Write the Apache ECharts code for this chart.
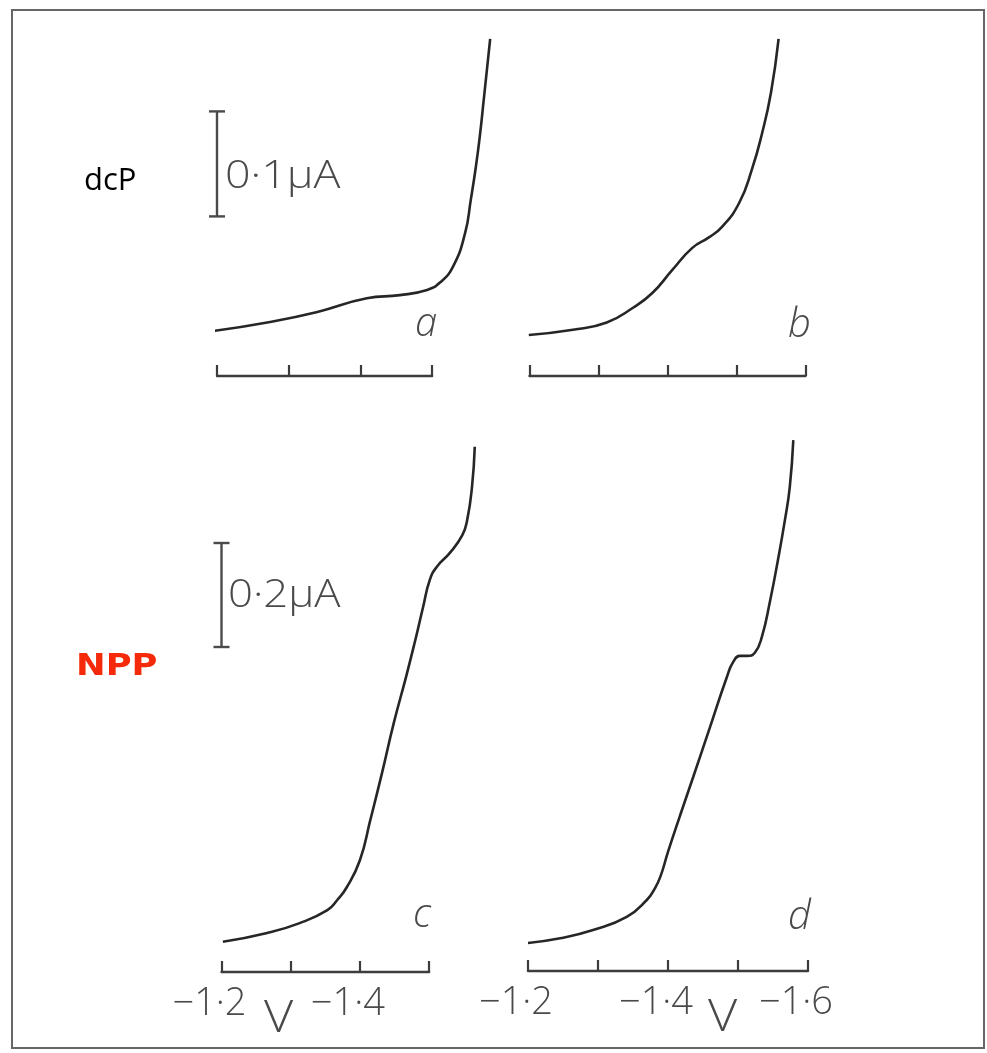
<!DOCTYPE html>
<html>
<head>
<meta charset="utf-8">
<script src="https://cdn.jsdelivr.net/npm/echarts@6/dist/echarts.min.js"></script>
<style>
  html, body { margin: 0; padding: 0; background: #fff; }
  #chart { width: 987px; height: 1053px; }
</style>
</head>
<body>
<div id="chart"></div>
<script>
// Polarograms: potential in V, current in µA measured from the trace baseline.
// a, b: dc polarography (dcP); c, d: normal pulse polarography (NPP).
const voltsA   = [-1.196, -1.270, -1.340, -1.409, -1.455, -1.493, -1.511, -1.529, -1.546, -1.554, -1.561, -1.567, -1.572, -1.581];
const currentA = [0.043, 0.051, 0.061, 0.074, 0.077, 0.082, 0.089, 0.104, 0.136, 0.168, 0.199, 0.231, 0.263, 0.321];

const voltsB   = [-1.199, -1.263, -1.312, -1.350, -1.378, -1.407, -1.436, -1.460, -1.479, -1.504, -1.522, -1.537, -1.550, -1.561];
const currentB = [0.039, 0.044, 0.051, 0.065, 0.079, 0.101, 0.122, 0.132, 0.142, 0.165, 0.196, 0.231, 0.270, 0.321];

const voltsC   = [-1.202, -1.266, -1.313, -1.353, -1.367, -1.381, -1.400, -1.415, -1.432, -1.449, -1.467, -1.480, -1.491, -1.501, -1.511, -1.530, -1.548, -1.555, -1.562, -1.566];
const currentC = [0.058, 0.075, 0.094, 0.119, 0.138, 0.163, 0.215, 0.292, 0.383, 0.479, 0.569, 0.638, 0.700, 0.754, 0.779, 0.806, 0.840, 0.869, 0.933, 1.010];

const voltsD   = [-1.200, -1.246, -1.293, -1.341, -1.370, -1.380, -1.389, -1.400, -1.417, -1.436, -1.460, -1.484, -1.493, -1.503, -1.513, -1.524, -1.534, -1.546, -1.557, -1.567, -1.574, -1.579];
const currentD = [0.054, 0.063, 0.079, 0.104, 0.137, 0.156, 0.181, 0.229, 0.298, 0.373, 0.469, 0.565, 0.594, 0.606, 0.606, 0.612, 0.642, 0.713, 0.790, 0.867, 0.931, 1.021];

// Current scale bars (start potential, base current, span in µA)
const scaleBarDcp = { volts: -1.2, base: 0.152, span: 0.1 };
const scaleBarNpp = { volts: -1.2, base: 0.625, span: 0.2 };
const scaleBarTexts = ['0·1µA', '0·2µA'];

// Potential rulers: end of each ruler and the ticks that carry a label
const rulerEnds = { a: -1.5, b: -1.6, c: -1.5, d: -1.6 };
const tickLabelsC = [-1.2, -1.4];
const tickLabelsD = [-1.2, -1.4, -1.6];
const panelLetters = ['a', 'b', 'c', 'd'];
const methodNames = ['dcP', 'NPP'];
const unitName = 'V';

// Page placement of each panel (pixel of −1.2 V, pixels per 0.1 V, baseline, µA scale)
const LAYOUT = {
  a: { x0: 217,   step: 71.7, axisY: 376, top: 20,  perUA: 1050 },
  b: { x0: 529.5, step: 69.0, axisY: 376, top: 20,  perUA: 1050 },
  c: { x0: 221.5, step: 69.2, axisY: 972, top: 420, perUA: 520 },
  d: { x0: 528,   step: 70.0, axisY: 971, top: 420, perUA: 520 }
};

const INK = '#262626';
const LETTER = '#4a4a4a';
const FONT = '"Open Sans", "DejaVu Sans", sans-serif';

const keys = ['a', 'b', 'c', 'd'];
const grids = [], xAxes = [], yAxes = [], series = [];
const curveGrid = {};

function fmtVolt(v) {
  return '\u2212' + Math.abs(v).toFixed(1).replace('.', '\u00b7');
}

keys.forEach((k) => {
  const L = LAYOUT[k];
  // curve grid, −1.2 … −1.6 V
  curveGrid[k] = grids.length;
  grids.push({ left: L.x0, top: L.top, width: 4 * L.step, height: L.axisY - L.top });
  xAxes.push({ gridIndex: curveGrid[k], type: 'value', inverse: true, min: -1.6, max: -1.2, show: false });
  yAxes.push({ gridIndex: curveGrid[k], type: 'value', min: 0, max: (L.axisY - L.top) / L.perUA, show: false });

  // ruler grid
  const n = Math.round((-1.2 - rulerEnds[k]) / 0.1);
  const gi = grids.length;
  grids.push({ left: L.x0, top: L.axisY - 20, width: n * L.step, height: 20 });
  const labelled = k === 'c' ? tickLabelsC : (k === 'd' ? tickLabelsD : null);
  xAxes.push({
    gridIndex: gi, type: 'value', inverse: true,
    min: rulerEnds[k], max: -1.2, interval: 0.1, position: 'bottom',
    axisLine: { show: true, onZero: false, lineStyle: { color: '#3c3c3c', width: 2.4 } },
    axisTick: { show: true, inside: true, length: 11, lineStyle: { color: '#3c3c3c', width: 2.2 } },
    splitLine: { show: false },
    axisLabel: labelled ? {
      show: true, margin: 13,
      fontFamily: FONT, fontWeight: 300, fontSize: 38, color: LETTER,
      padding: [0, 24, 0, 0],
      formatter: v => labelled.some(t => Math.abs(t - v) < 1e-6) ? fmtVolt(v) : ''
    } : { show: false }
  });
  yAxes.push({ gridIndex: gi, type: 'value', min: 0, max: 1, show: false });
});

const curves = { a: [voltsA, currentA], b: [voltsB, currentB], c: [voltsC, currentC], d: [voltsD, currentD] };
keys.forEach((k) => {
  const [vx, cy] = curves[k];
  series.push({
    type: 'line', xAxisIndex: curveGrid[k], yAxisIndex: curveGrid[k],
    data: vx.map((v, j) => [v, cy[j]]),
    smooth: 0.5, showSymbol: false, clip: false, silent: true,
    lineStyle: { color: INK, width: 2.6 }
  });
});

[[scaleBarDcp, curveGrid.a], [scaleBarNpp, curveGrid.c]].forEach(([bar, gi]) => {
  series.push({
    type: 'line', xAxisIndex: gi, yAxisIndex: gi,
    data: [[bar.volts, bar.base], [bar.volts, bar.base + bar.span]],
    symbol: 'rect', symbolSize: [16, 2.4], showSymbol: true, clip: false, silent: true,
    itemStyle: { color: '#4a4a4a' },
    lineStyle: { color: '#4a4a4a', width: 2.4 }
  });
});

function txt(text, x, y, style, extra) {
  return Object.assign({
    type: 'text', x: x, y: y, silent: true,
    style: Object.assign({ text: text, fill: LETTER, font: '300 38px ' + FONT, textVerticalAlign: 'middle' }, style)
  }, extra || {});
}

const graphic = [
  { type: 'rect', shape: { x: 12, y: 10, width: 972, height: 1038 }, silent: true,
    style: { fill: 'none', stroke: '#666', lineWidth: 2 } },
  txt(methodNames[0], 84, 181, { fill: '#000', font: '400 31px ' + FONT }),
  txt(methodNames[1], 76, 667, { fill: '#f42a0b', font: '900 30px "DejaVu Sans", sans-serif' }, { scaleX: 1.18 }),
  txt(scaleBarTexts[0], 225, 177, {}, { scaleX: 1.18 }),
  txt(scaleBarTexts[1], 228, 596, {}, { scaleX: 1.15 }),
  txt(panelLetters[0], 415, 325, { font: 'italic 300 40px ' + FONT }),
  txt(panelLetters[1], 788, 326, { font: 'italic 300 40px ' + FONT }),
  txt(panelLetters[2], 413, 916, { font: 'italic 300 40px ' + FONT }),
  txt(panelLetters[3], 788, 918, { font: 'italic 300 40px ' + FONT }),
  txt(unitName, 264, 1019, { font: '300 44px ' + FONT }, { scaleX: 1.15 }),
  txt(unitName, 708, 1018, { font: '300 44px ' + FONT }, { scaleX: 1.15 })
];

const chart = echarts.init(document.getElementById('chart'), null, { renderer: 'canvas' });
chart.setOption({
  backgroundColor: '#fff',
  animation: false,
  grid: grids,
  xAxis: xAxes,
  yAxis: yAxes,
  series: series,
  graphic: graphic
});
</script>
</body>
</html>
